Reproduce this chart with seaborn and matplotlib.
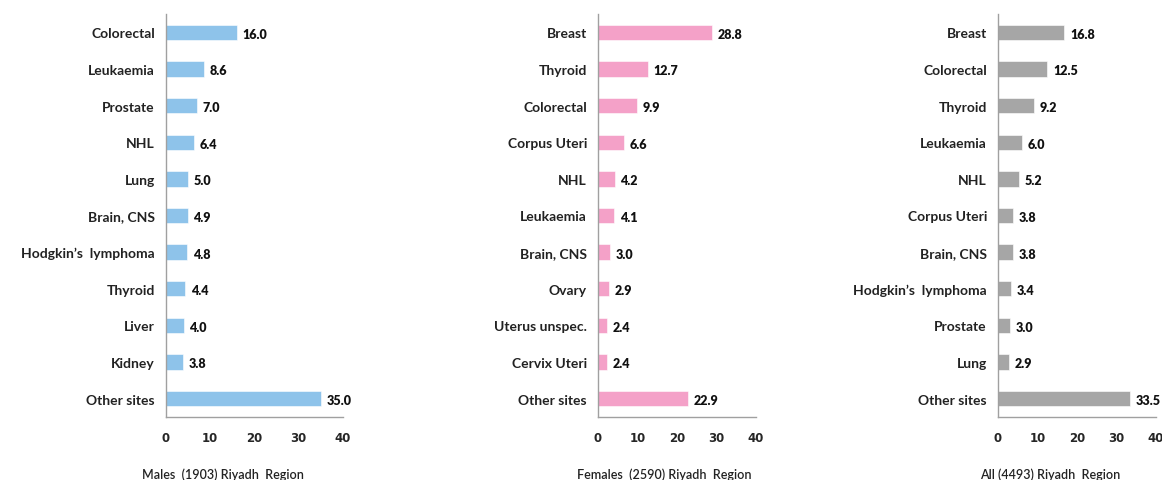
import matplotlib
matplotlib.use("Agg")
import matplotlib.pyplot as plt
import seaborn as sns
import pandas as pd

# Riyadh region cancer sites, percent of cases
male_sites = ["Colorectal", "Leukaemia", "Prostate", "NHL", "Lung", "Brain, CNS",
              "Hodgkin\u2019s  lymphoma", "Thyroid", "Liver", "Kidney", "Other sites"]
male_pct = [16.0, 8.6, 7.0, 6.4, 5.0, 4.9, 4.8, 4.4, 4.0, 3.8, 35.0]

female_sites = ["Breast", "Thyroid", "Colorectal", "Corpus Uteri", "NHL", "Leukaemia",
                "Brain, CNS", "Ovary", "Uterus unspec.", "Cervix Uteri", "Other sites"]
female_pct = [28.8, 12.7, 9.9, 6.6, 4.2, 4.1, 3.0, 2.9, 2.4, 2.4, 22.9]

all_sites = ["Breast", "Colorectal", "Thyroid", "Leukaemia", "NHL", "Corpus Uteri",
             "Brain, CNS", "Hodgkin\u2019s  lymphoma", "Prostate", "Lung", "Other sites"]
all_pct = [16.8, 12.5, 9.2, 6.0, 5.2, 3.8, 3.8, 3.4, 3.0, 2.9, 33.5]

titles = ["Males  (1903) Riyadh  Region", "Females  (2590) Riyadh  Region",
          "All (4493) Riyadh  Region"]
colors = ["#8EC3EA", "#F4A1C8", "#A6A6A6"]

sns.set_style("white")
plt.rcParams["font.family"] = ["Lato", "DejaVu Sans"]

fig = plt.figure(figsize=(11.62, 4.81), dpi=100)
lefts = [166, 598, 998]
widths = [177, 158, 158]
label_x = [0.32, 0.42, 0.33]

panels = [(male_sites, male_pct), (female_sites, female_pct), (all_sites, all_pct)]
for i, (sites, pct) in enumerate(panels):
    ax = fig.add_axes([lefts[i] / 1162, 63 / 481, widths[i] / 1162, 403 / 481])
    df = pd.DataFrame({"site": sites, "pct": pct})
    sns.barplot(data=df, x="pct", y="site", orient="h", color=colors[i],
                width=0.42, saturation=1, edgecolor="white", linewidth=0.4, ax=ax)
    for p, v in zip(ax.patches, pct):
        ax.annotate(f"{v:.1f}", (p.get_width(), p.get_y() + p.get_height() / 2),
                    xytext=(4, -1), textcoords="offset points", va="center",
                    ha="left", fontsize=9, fontweight="heavy", color="#111111")
    ax.set_xlim(0, 40)
    ax.set_ylim(len(sites) - 0.5, -0.5)
    ax.set_xticks([0, 10, 20, 30, 40])
    ax.set_xlabel(titles[i], fontsize=9, color="#222222", fontweight="semibold")
    ax.xaxis.set_label_coords(label_x[i], -0.125)
    ax.set_ylabel("")
    ax.tick_params(axis="x", length=4, width=0.8, color="#A0A0A0", labelsize=8.5,
                   pad=6)
    ax.tick_params(axis="y", length=0, pad=8, labelsize=10)
    for lab in ax.get_xticklabels():
        lab.set_fontweight("bold")
        lab.set_family("DejaVu Sans")
    for lab in ax.get_yticklabels():
        lab.set_fontweight("bold")
        lab.set_color("#222222")
    sns.despine(ax=ax)
    for s in ["left", "bottom"]:
        ax.spines[s].set_color("#A0A0A0")
        ax.spines[s].set_linewidth(1.0)

fig.savefig("out.png", dpi=100)
